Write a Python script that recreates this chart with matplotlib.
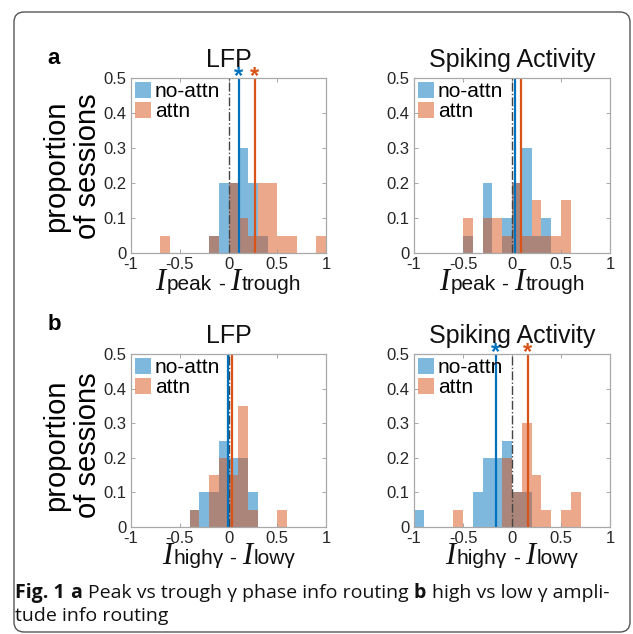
import matplotlib
matplotlib.use('Agg')
import matplotlib.pyplot as plt
import numpy as np
from matplotlib.offsetbox import TextArea, HPacker, AnchoredOffsetbox
from matplotlib.patches import FancyBboxPatch, Patch

plt.rcParams['font.family'] = ['Liberation Sans', 'DejaVu Sans']

# proportion of sessions per 0.1-wide bin, bins from -1 to 1
edges = np.round(np.arange(-1, 1.0001, 0.1), 2)
lefts = edges[:-1]

lfp_phase_noattn = [0, 0, 0, 0, 0, 0, 0, 0, 0.05, 0.2, 0.2, 0.3, 0.2, 0.05, 0, 0, 0, 0, 0, 0]
lfp_phase_attn = [0, 0, 0, 0.05, 0, 0, 0, 0, 0.05, 0, 0.2, 0.1, 0.05, 0.2, 0.2, 0.05, 0.05, 0, 0, 0.05]
spk_phase_noattn = [0, 0, 0, 0, 0, 0.05, 0, 0.2, 0, 0.1, 0.2, 0.3, 0.05, 0.1, 0, 0, 0, 0, 0, 0]
spk_phase_attn = [0, 0, 0, 0, 0, 0.1, 0, 0.1, 0.1, 0.05, 0.2, 0.05, 0.15, 0.05, 0.05, 0.15, 0, 0, 0, 0]
lfp_amp_noattn = [0, 0, 0, 0, 0, 0, 0.05, 0.1, 0.1, 0.25, 0.2, 0.2, 0.1, 0, 0, 0, 0, 0, 0, 0]
lfp_amp_attn = [0, 0, 0, 0, 0, 0, 0.05, 0, 0.15, 0.2, 0.15, 0.35, 0.05, 0, 0, 0.05, 0, 0, 0, 0]
spk_amp_noattn = [0.05, 0, 0, 0, 0, 0, 0.1, 0.2, 0.2, 0.25, 0.1, 0.1, 0, 0, 0, 0, 0, 0, 0, 0]
spk_amp_attn = [0, 0, 0, 0, 0.05, 0, 0, 0, 0, 0.2, 0.1, 0.3, 0.15, 0.05, 0, 0.05, 0.1, 0, 0, 0]

# mean index per condition (no-attn, attn) and significance flag
lfp_phase_means = [0.105, 0.27]
spk_phase_means = [0.03, 0.09]
lfp_amp_means = [-0.005, 0.04]
spk_amp_means = [-0.165, 0.16]
signif = [True, False, False, True]

titles = ['LFP', 'Spiking Activity', 'LFP', 'Spiking Activity']
xlabels = [('peak', 'trough'), ('peak', 'trough'), ('highγ', 'lowγ'), ('highγ', 'lowγ')]

BLUE = '#0072BD'
ORANGE = '#D95319'
W, H = 633, 634

fig = plt.figure(figsize=(W / 100, H / 100), dpi=100)


def add_ax(l, t, r, b):
    return fig.add_axes([l / W, 1 - b / H, (r - l) / W, (b - t) / H])


def xlabel_box(ax, a, b):
    ital = dict(family='Liberation Serif', style='italic', size=22, color='#111111')
    sans = dict(family='Liberation Sans', size=15, color='#111111')
    left = HPacker(children=[TextArea('I', textprops=ital), TextArea(a, textprops=sans)],
                   align='baseline', pad=0, sep=1)
    right = HPacker(children=[TextArea('I', textprops=ital), TextArea(b, textprops=sans)],
                    align='baseline', pad=0, sep=1)
    pack = HPacker(children=[left, TextArea('-', textprops=sans), right],
                   align='baseline', pad=0, sep=4)
    box = AnchoredOffsetbox(loc='upper center', child=pack, pad=0, borderpad=0, frameon=False,
                            bbox_to_anchor=(0.5, -0.085), bbox_transform=ax.transAxes)
    ax.add_artist(box)


axes = [add_ax(131, 78, 326, 253), add_ax(414, 78, 610, 253),
        add_ax(131, 354, 326, 527), add_ax(414, 354, 610, 527)]
blues = [lfp_phase_noattn, spk_phase_noattn, lfp_amp_noattn, spk_amp_noattn]
oranges = [lfp_phase_attn, spk_phase_attn, lfp_amp_attn, spk_amp_attn]
means = [lfp_phase_means, spk_phase_means, lfp_amp_means, spk_amp_means]

for i, ax in enumerate(axes):
    ax.bar(lefts, blues[i], width=0.1, align='edge', color=BLUE, alpha=0.5, linewidth=0)
    ax.bar(lefts, oranges[i], width=0.1, align='edge', color=ORANGE, alpha=0.5, linewidth=0)
    ax.axvline(0, color='#444444', ls='-.', lw=1)
    ax.axvline(means[i][0], color=BLUE, lw=1.6)
    ax.axvline(means[i][1], color=ORANGE, lw=1.6)
    if signif[i]:
        for m, c in zip(means[i], [BLUE, ORANGE]):
            ax.annotate('*', xy=(m, 0.5), xytext=(0, -3.5), textcoords='offset points',
                        ha='center', va='baseline', fontsize=17, fontweight='bold',
                        color=c, annotation_clip=False)
    ax.set_xlim(-1, 1)
    ax.set_ylim(0, 0.5)
    ax.set_xticks([-1, -0.5, 0, 0.5, 1])
    ax.set_xticklabels(['-1', '-0.5', '0', '0.5', '1'])
    ax.set_yticks([0, 0.1, 0.2, 0.3, 0.4, 0.5])
    ax.set_yticklabels(['0', '0.1', '0.2', '0.3', '0.4', '0.5'])
    ax.tick_params(direction='in', length=3, width=0.6, color='#999999', top=True, right=True,
                   labelsize=12, labelcolor='#262626', pad=3)
    for s in ax.spines.values():
        s.set_color('#a8a8a8')
        s.set_linewidth(0.9)
    ax.set_title(titles[i], fontsize=18, pad=8, color='#111111')
    handles = [Patch(facecolor=BLUE, alpha=0.5, linewidth=0), Patch(facecolor=ORANGE, alpha=0.5, linewidth=0)]
    ax.legend(handles, ['no-attn', 'attn'], loc='upper left', frameon=False, fontsize=15,
              handlelength=0.75, handleheight=0.75, handletextpad=0.2, labelspacing=0.05,
              borderaxespad=0.1, borderpad=0.1)
    xlabel_box(ax, *xlabels[i])

# row labels and shared y labels
for letter, ty, cy in [('a', 58, 166), ('b', 325, 445)]:
    fig.text(54 / W, 1 - ty / H, letter, fontsize=16, fontweight='bold', ha='center', va='center')
    fig.text(72 / W, 1 - cy / H, 'proportion\nof sessions', rotation=90, fontsize=21,
             ha='center', va='center', multialignment='center', linespacing=1.15)

# caption
cap_reg = dict(family='Open Sans', size=14, color='#111111')
cap_bold = dict(family='Open Sans', size=14, weight='bold', color='#111111')
line1 = HPacker(children=[TextArea('Fig. 1', textprops=cap_bold), TextArea('a', textprops=cap_bold),
                          TextArea('Peak vs trough γ phase info routing', textprops=cap_reg),
                          TextArea('b', textprops=cap_bold),
                          TextArea('high vs low γ ampli-', textprops=cap_reg)],
                align='baseline', pad=0, sep=4)
fig.add_artist(AnchoredOffsetbox(loc='lower left', child=line1, pad=0, borderpad=0, frameon=False,
                                 bbox_to_anchor=(15 / W, 1 - 603 / H), bbox_transform=fig.transFigure))
fig.add_artist(AnchoredOffsetbox(loc='lower left', child=TextArea('tude info routing', textprops=cap_reg),
                                 pad=0, borderpad=0, frameon=False,
                                 bbox_to_anchor=(15 / W, 1 - 625 / H), bbox_transform=fig.transFigure))

# rounded frame around the figure
frame = FancyBboxPatch((14 / W, 1 - 632 / H), (630 - 14) / W, (632 - 12) / H,
                       boxstyle='round,pad=0,rounding_size=0.016', transform=fig.transFigure,
                       fill=False, edgecolor='#555555', linewidth=1.0)
fig.add_artist(frame)

fig.savefig('out.png', dpi=100)
